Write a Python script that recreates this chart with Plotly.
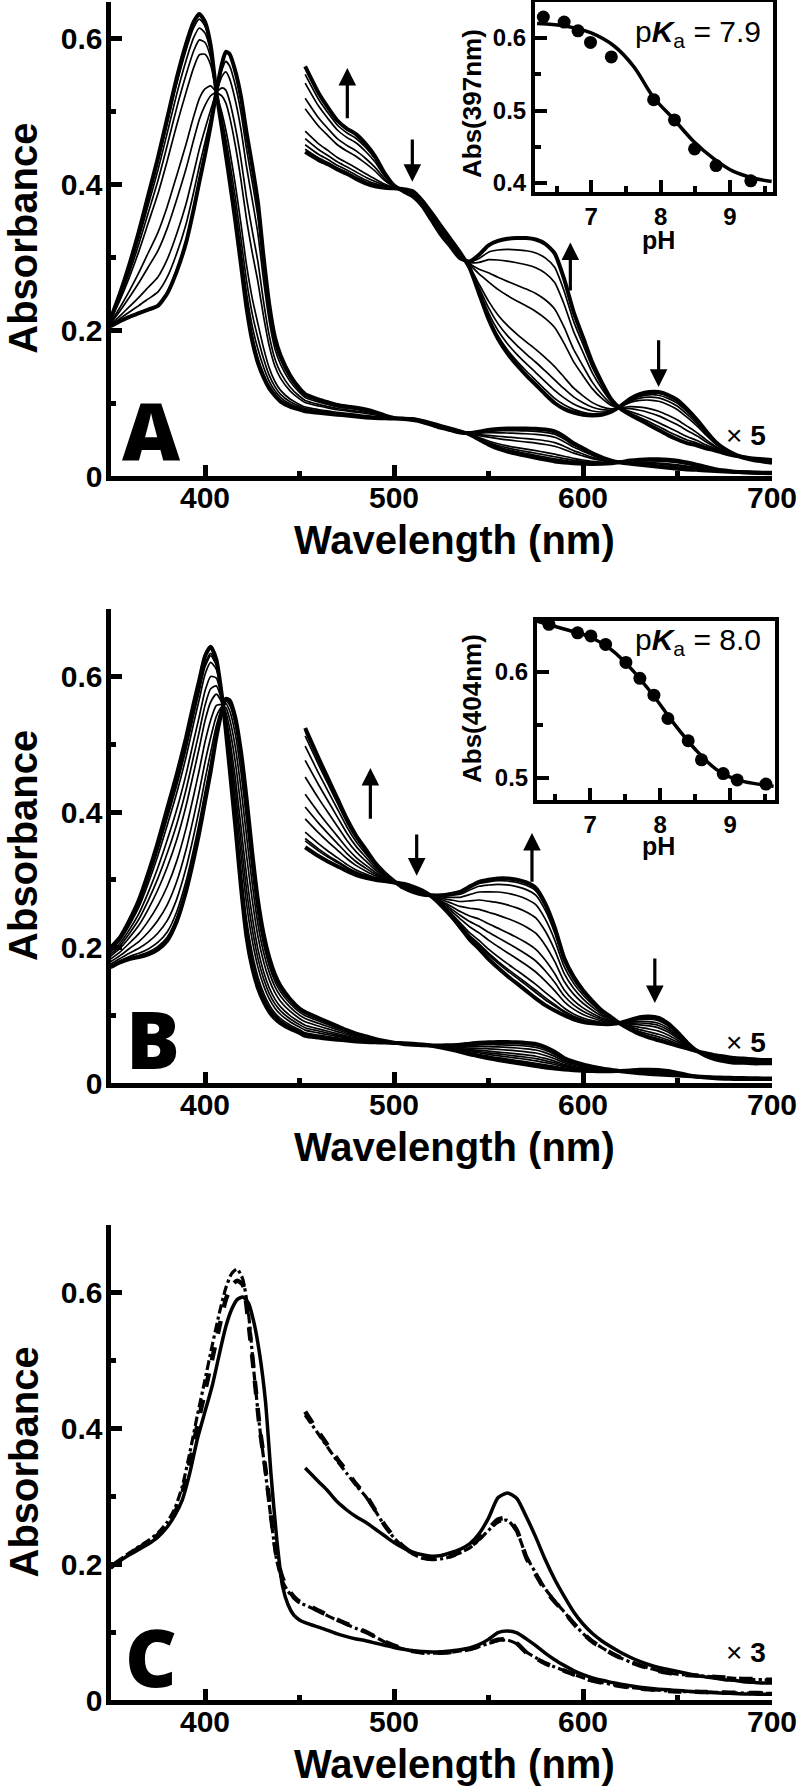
import numpy as np
import plotly.graph_objects as go

W, H = 800, 1790

# ---------------- Panel A data ----------------
A_WL_SORET = [350, 355, 360, 365, 370, 375, 380, 385, 390, 394, 397, 400, 403, 406, 409, 411, 413, 416, 419, 422, 425, 428, 431, 434, 437, 440, 445, 450]
A_ACID_SORET = [0.215, 0.250, 0.290, 0.335, 0.385, 0.435, 0.490, 0.545, 0.592, 0.622, 0.633, 0.622, 0.590, 0.526, 0.475, 0.440, 0.405, 0.350, 0.290, 0.230, 0.185, 0.155, 0.135, 0.120, 0.110, 0.102, 0.095, 0.091]
A_BASE_SORET = [0.205, 0.212, 0.218, 0.223, 0.228, 0.233, 0.250, 0.280, 0.320, 0.365, 0.403, 0.440, 0.480, 0.526, 0.565, 0.581, 0.578, 0.555, 0.520, 0.470, 0.425, 0.375, 0.300, 0.235, 0.190, 0.165, 0.138, 0.120]
A_WL_VIS = [453, 460, 465, 470, 475, 480, 485, 490, 495, 500, 505, 510, 515, 520, 525, 530, 535, 540, 545, 550,
            555, 560, 565, 570, 575, 580, 585, 590, 595, 600, 605, 610, 615, 620, 625, 630, 635, 640, 645, 650,
            655, 660, 665, 670, 675, 680, 685, 690, 695, 700]
A_ACID_X5 = [0.444, 0.433, 0.427, 0.420, 0.414, 0.407, 0.401, 0.397, 0.395, 0.394, 0.393, 0.390, 0.377, 0.360, 0.342, 0.324, 0.306, 0.285, 0.250, 0.215,
             0.188, 0.168, 0.152, 0.138, 0.125, 0.112, 0.100, 0.092, 0.087, 0.084, 0.083, 0.084, 0.088, 0.096, 0.106, 0.112, 0.115, 0.115, 0.111, 0.104,
             0.092, 0.078, 0.062, 0.047, 0.037, 0.030, 0.025, 0.022, 0.020, 0.018]
A_BASE_X5 = [0.561, 0.525, 0.505, 0.487, 0.476, 0.468, 0.455, 0.438, 0.415, 0.398, 0.390, 0.383, 0.370, 0.350, 0.330, 0.314, 0.298, 0.294, 0.303, 0.316,
             0.322, 0.325, 0.326, 0.326, 0.324, 0.318, 0.305, 0.270, 0.225, 0.190, 0.155, 0.128, 0.105, 0.092, 0.084, 0.077, 0.070, 0.063, 0.056, 0.050,
             0.045, 0.042, 0.038, 0.035, 0.031, 0.028, 0.026, 0.024, 0.023, 0.022]
A_INSET_PH = [6.31, 6.61, 6.81, 6.99, 7.29, 7.90, 8.20, 8.49, 8.80, 9.30]
A_INSET_ABS = [0.629, 0.622, 0.610, 0.594, 0.574, 0.515, 0.487, 0.447, 0.424, 0.403]
A_FIT_PH = [6.22, 6.66, 7.00, 7.33, 7.61, 7.90, 8.19, 8.47, 8.76, 9.05, 9.33, 9.60]
A_FIT_ABS = [0.620, 0.616, 0.607, 0.589, 0.561, 0.518, 0.488, 0.458, 0.434, 0.416, 0.407, 0.402]

# ---------------- Panel B data ----------------
B_WL_SORET = [350, 355, 360, 365, 370, 375, 380, 385, 390, 394, 397, 400, 403, 406, 409, 411, 413, 416, 419, 422, 425, 428, 431, 434, 437, 440, 445, 450]
B_ACID_SORET = [0.200, 0.215, 0.240, 0.270, 0.310, 0.355, 0.405, 0.455, 0.510, 0.560, 0.595, 0.630, 0.644, 0.625, 0.570, 0.520, 0.465, 0.380, 0.290, 0.215, 0.170, 0.140, 0.120, 0.105, 0.095, 0.088, 0.080, 0.074]
B_BASE_SORET = [0.171, 0.178, 0.183, 0.186, 0.190, 0.197, 0.210, 0.238, 0.283, 0.330, 0.370, 0.415, 0.460, 0.510, 0.550, 0.567, 0.565, 0.540, 0.490, 0.420, 0.340, 0.270, 0.220, 0.185, 0.160, 0.143, 0.124, 0.110]
B_WL_VIS = A_WL_VIS
B_ACID_X5 = [0.348, 0.335, 0.327, 0.320, 0.313, 0.307, 0.303, 0.300, 0.298, 0.296, 0.294, 0.290, 0.284, 0.275, 0.262, 0.247, 0.230, 0.212, 0.198, 0.183,
             0.170, 0.158, 0.147, 0.136, 0.125, 0.115, 0.107, 0.100, 0.094, 0.090, 0.088, 0.087, 0.087, 0.089, 0.093, 0.097, 0.098, 0.096, 0.088, 0.075,
             0.060, 0.048, 0.040, 0.035, 0.032, 0.030, 0.030, 0.029, 0.029, 0.029]
B_BASE_X5 = [0.524, 0.480, 0.450, 0.420, 0.390, 0.365, 0.345, 0.325, 0.310, 0.298, 0.288, 0.282, 0.278, 0.277, 0.277, 0.279, 0.282, 0.290, 0.297, 0.300,
             0.302, 0.302, 0.300, 0.296, 0.288, 0.265, 0.230, 0.185, 0.157, 0.137, 0.121, 0.107, 0.097, 0.087, 0.079, 0.072, 0.067, 0.063, 0.059, 0.055,
             0.051, 0.047, 0.044, 0.041, 0.039, 0.037, 0.036, 0.035, 0.034, 0.034]
B_INSET_PH = [6.41, 6.82, 7.01, 7.22, 7.51, 7.71, 7.91, 8.11, 8.40, 8.59, 8.90, 9.10, 9.51]
B_INSET_ABS = [0.645, 0.637, 0.634, 0.626, 0.609, 0.594, 0.578, 0.556, 0.535, 0.517, 0.504, 0.498, 0.494]
B_FIT_PH = [6.24, 6.60, 7.00, 7.30, 7.60, 7.90, 8.20, 8.50, 8.80, 9.10, 9.40, 9.62]
B_FIT_ABS = [0.648, 0.641, 0.633, 0.621, 0.602, 0.578, 0.551, 0.527, 0.508, 0.498, 0.494, 0.492]

# ---------------- Panel C data ----------------
C_WL_SORET = [350, 355, 360, 365, 370, 375, 380, 384, 388, 392, 396, 400, 404, 408, 411, 414, 417, 420, 423, 426, 429, 432, 435, 438, 441, 444, 447, 450]
C_SOLID_SORET = [0.195, 0.205, 0.214, 0.222, 0.230, 0.240, 0.255, 0.272, 0.295, 0.335, 0.385, 0.425, 0.465, 0.515, 0.550, 0.575, 0.590, 0.594, 0.585, 0.555, 0.508, 0.440, 0.330, 0.236, 0.168, 0.140, 0.125, 0.118]
C_DASH_SORET = [0.195, 0.206, 0.215, 0.224, 0.232, 0.243, 0.258, 0.275, 0.305, 0.350, 0.405, 0.455, 0.505, 0.555, 0.590, 0.610, 0.618, 0.612, 0.556, 0.480, 0.400, 0.340, 0.270, 0.210, 0.180, 0.163, 0.152, 0.145]
C_DOT_SORET = [0.197, 0.207, 0.217, 0.226, 0.235, 0.246, 0.262, 0.282, 0.315, 0.365, 0.420, 0.472, 0.525, 0.575, 0.607, 0.628, 0.635, 0.620, 0.570, 0.480, 0.400, 0.335, 0.265, 0.205, 0.175, 0.160, 0.150, 0.143]
C_WL_VIS = A_WL_VIS
C_SOLID_X3 = [0.342, 0.322, 0.308, 0.292, 0.280, 0.270, 0.262, 0.252, 0.242, 0.232, 0.224, 0.218, 0.214, 0.212, 0.213, 0.217, 0.222, 0.230, 0.245, 0.268,
              0.298, 0.305, 0.297, 0.270, 0.240, 0.207, 0.178, 0.153, 0.130, 0.112, 0.098, 0.087, 0.078, 0.070, 0.063, 0.057, 0.052, 0.048, 0.045, 0.042,
              0.039, 0.036, 0.034, 0.032, 0.030, 0.029, 0.027, 0.026, 0.025, 0.025]
C_DASH_X3 = [0.425, 0.395, 0.375, 0.355, 0.337, 0.318, 0.302, 0.280, 0.258, 0.240, 0.226, 0.216, 0.210, 0.208, 0.209, 0.212, 0.218, 0.225, 0.238, 0.252,
             0.266, 0.268, 0.250, 0.210, 0.185, 0.162, 0.145, 0.130, 0.113, 0.098, 0.086, 0.077, 0.069, 0.062, 0.056, 0.051, 0.047, 0.043, 0.040, 0.038,
             0.037, 0.036, 0.035, 0.034, 0.033, 0.032, 0.031, 0.031, 0.030, 0.030]
C_DOT_X3 = [0.420, 0.392, 0.372, 0.352, 0.334, 0.316, 0.300, 0.279, 0.257, 0.239, 0.225, 0.215, 0.209, 0.207, 0.208, 0.211, 0.217, 0.224, 0.236, 0.250,
            0.262, 0.265, 0.248, 0.212, 0.187, 0.164, 0.146, 0.130, 0.113, 0.098, 0.086, 0.077, 0.069, 0.062, 0.056, 0.051, 0.047, 0.043, 0.040, 0.038,
            0.037, 0.036, 0.035, 0.034, 0.033, 0.032, 0.031, 0.030, 0.030, 0.029]

# ---------------- helpers ----------------
FONT = "Liberation Sans, Arial, Helvetica, sans-serif"
def PX(px):
    return px / W
def PY(py):
    return 1 - py / H

fig = go.Figure()

def add_titration(xa, ya, wl_s, acid_s, base_s, wl_v, acid_v, base_v, inset_abs, mult):
    wl_s = np.array(wl_s, float); wl_v = np.array(wl_v, float)
    acid_s = np.array(acid_s); base_s = np.array(base_s)
    acid_v = np.array(acid_v); base_v = np.array(base_v)
    v = np.array(inset_abs)
    fr = (v - v[-1]) / (v[0] - v[-1])
    n = len(fr)
    order = list(range(1, n - 1)) + [0, n - 1]
    for i in order:
        f = fr[i]
        thick = i in (0, n - 1)
        w = 4.0 if thick else 1.7
        sor = f * acid_s + (1 - f) * base_s
        vis = f * acid_v + (1 - f) * base_v
        raw_x = np.concatenate([wl_s, wl_v])
        raw_y = np.concatenate([sor, vis / mult])
        fig.add_trace(go.Scatter(x=raw_x, y=raw_y, mode="lines", xaxis=xa, yaxis=ya,
                                 line=dict(color="black", width=w, shape="spline", smoothing=0.6),
                                 showlegend=False, hoverinfo="skip"))
        fig.add_trace(go.Scatter(x=wl_v, y=vis, mode="lines", xaxis=xa, yaxis=ya,
                                 line=dict(color="black", width=w, shape="spline", smoothing=0.6),
                                 showlegend=False, hoverinfo="skip"))

add_titration("x", "y", A_WL_SORET, A_ACID_SORET, A_BASE_SORET, A_WL_VIS, A_ACID_X5, A_BASE_X5, A_INSET_ABS, 5)
add_titration("x3", "y3", B_WL_SORET, B_ACID_SORET, B_BASE_SORET, B_WL_VIS, B_ACID_X5, B_BASE_X5, B_INSET_ABS, 5)

# insets
fig.add_trace(go.Scatter(x=A_FIT_PH, y=A_FIT_ABS, mode="lines", xaxis="x2", yaxis="y2",
                         line=dict(color="black", width=3.5, shape="spline"), showlegend=False))
fig.add_trace(go.Scatter(x=A_INSET_PH, y=A_INSET_ABS, mode="markers", xaxis="x2", yaxis="y2",
                         marker=dict(color="black", size=13), showlegend=False))
fig.add_trace(go.Scatter(x=B_FIT_PH, y=B_FIT_ABS, mode="lines", xaxis="x4", yaxis="y4",
                         line=dict(color="black", width=3.5, shape="spline"), showlegend=False))
fig.add_trace(go.Scatter(x=B_INSET_PH, y=B_INSET_ABS, mode="markers", xaxis="x4", yaxis="y4",
                         marker=dict(color="black", size=13), showlegend=False))

# panel C
for soret, vis, dash, w in [(C_DOT_SORET, C_DOT_X3, "dashdot", 3.2),
                            (C_DASH_SORET, C_DASH_X3, "dash", 4.5),
                            (C_SOLID_SORET, C_SOLID_X3, "solid", 3.5)]:
    vis = np.array(vis)
    rx = list(C_WL_SORET) + list(C_WL_VIS)
    ry = list(soret) + list(vis / 3)
    fig.add_trace(go.Scatter(x=rx, y=ry, mode="lines", xaxis="x5", yaxis="y5",
                             line=dict(color="black", width=w, dash=dash, shape="spline", smoothing=0.6),
                             showlegend=False))
    fig.add_trace(go.Scatter(x=C_WL_VIS, y=vis, mode="lines", xaxis="x5", yaxis="y5",
                             line=dict(color="black", width=w, dash=dash, shape="spline", smoothing=0.6),
                             showlegend=False))

# ---------------- axes ----------------
tickfont_main = dict(family=FONT, size=30, color="black", weight="bold")
tickfont_in = dict(family=FONT, size=24, color="black", weight="bold")

def main_x(anchor):
    return dict(domain=[PX(110.5), PX(772)], range=[350, 700], anchor=anchor, automargin=False,
                showline=True, linewidth=5, linecolor="black", mirror=False,
                ticks="inside", ticklen=11, tickwidth=5, tickcolor="black",
                tick0=0, dtick=100, ticklabelstandoff=-9,
                minor=dict(ticks="inside", ticklen=5, tickwidth=5, tickcolor="black", dtick=50, tick0=0),
                tickfont=tickfont_main, showgrid=False, zeroline=False)

def main_y(anchor, top, bot, ymax):
    return dict(domain=[PY(bot), PY(top)], range=[0, ymax], anchor=anchor, automargin=False,
                showline=True, linewidth=5, linecolor="black", mirror=False,
                ticks="inside", ticklen=11, tickwidth=5, tickcolor="black",
                tick0=0, dtick=0.2, ticklabelstandoff=-3,
                minor=dict(ticks="inside", ticklen=5, tickwidth=5, tickcolor="black", dtick=0.1, tick0=0),
                tickfont=tickfont_main, showgrid=False, zeroline=False)

def inset_x(anchor, l, r, rng):
    return dict(domain=[PX(l), PX(r)], range=rng, anchor=anchor, automargin=False,
                showline=True, linewidth=4, linecolor="black", mirror=True,
                ticks="inside", ticklen=12, tickwidth=4, tickcolor="black",
                tick0=0, dtick=1,
                minor=dict(ticks="inside", ticklen=6, tickwidth=4, tickcolor="black", dtick=0.5, tick0=0),
                tickfont=tickfont_in, showgrid=False, zeroline=False)

def inset_y(anchor, top, bot, rng):
    return dict(domain=[PY(bot), PY(top)], range=rng, anchor=anchor, automargin=False,
                showline=True, linewidth=4, linecolor="black", mirror=True,
                ticks="inside", ticklen=12, tickwidth=4, tickcolor="black",
                tick0=0, dtick=0.1,
                minor=dict(ticks="inside", ticklen=6, tickwidth=4, tickcolor="black", dtick=0.05, tick0=0),
                tickfont=tickfont_in, showgrid=False, zeroline=False)

A_TOP, A_BOT = 1.5, 476
B_TOP, B_BOT = 608.75, 1083
C_TOP, C_BOT = 1225, 1700

fig.update_layout(
    width=W, height=H, margin=dict(l=0, r=0, t=0, b=0, autoexpand=False),
    paper_bgcolor="white", plot_bgcolor="rgba(0,0,0,0)", showlegend=False,
    xaxis=main_x("y"), yaxis=main_y("x", A_TOP, A_BOT, 0.65),
    xaxis2=inset_x("y2", 535, 773, [6.19, 9.62]), yaxis2=inset_y("x2", 2, 192, [0.3876, 0.6497]),
    xaxis3=main_x("y3"), yaxis3=main_y("x3", B_TOP, B_BOT, 0.7),
    xaxis4=inset_x("y4", 537, 775, [6.24, 9.64]), yaxis4=inset_y("x4", 620.5, 800, [0.479, 0.6486]),
    xaxis5=main_x("y5"), yaxis5=main_y("x5", C_TOP, C_BOT, 0.7),
)

# ---------------- annotations ----------------
ann = []
def text(px, py, s, size, bold=True, xanchor="center", yanchor="middle", angle=0, family=FONT, weight=None):
    f = dict(family=family, size=size, color="black")
    if weight is not None:
        f["weight"] = weight
    elif bold:
        f["weight"] = "bold"
    ann.append(dict(x=PX(px), y=PY(py), xref="paper", yref="paper", text=s, showarrow=False,
                    xanchor=xanchor, yanchor=yanchor, textangle=angle, font=f))

for top, bot in [(A_TOP, A_BOT), (B_TOP, B_BOT), (C_TOP, C_BOT)]:
    text(23, (top + bot) / 2, "Absorbance", 40, angle=-90)
    text(454, bot + 64, "Wavelength (nm)", 40)

text(151, 429, "A", 80, family="Open Sans, sans-serif", weight=800)
text(153, 1037, "B", 80, family="Open Sans, sans-serif", weight=800)
text(151, 1655, "C", 80, family="Open Sans, sans-serif", weight=800)

text(768, 436, "× <b>5</b>", 28, bold=False, xanchor="right")
text(768, 1042, "× <b>5</b>", 28, bold=False, xanchor="right")
text(768, 1652, "× <b>3</b>", 28, bold=False, xanchor="right")

text(763, 33, "p<b><i>K</i></b><sub>a</sub> = 7.9", 30, bold=False, xanchor="right")
text(763, 641, "p<b><i>K</i></b><sub>a</sub> = 8.0", 30, bold=False, xanchor="right")
text(658, 240, "pH", 25)
text(658, 846, "pH", 25)
text(472, 104, "Abs(397nm)", 26, angle=-90)
text(472, 709, "Abs(404nm)", 26, angle=-90)

def arrow(xa, ya, wl, y0, y1):
    ann.append(dict(x=wl, y=y1, ax=wl, ay=y0, xref=xa, yref=ya, axref=xa, ayref=ya, text="",
                    showarrow=True, arrowhead=2, arrowsize=1.1, arrowwidth=3.2, arrowcolor="black"))

for wl, y0, y1 in [(475.3, 0.488, 0.559), (509.7, 0.463, 0.403), (593.3, 0.252, 0.320), (640.0, 0.188, 0.122)]:
    arrow("x", "y", wl, y0, y1)
for wl, y0, y1 in [(487.5, 0.388, 0.465), (512.0, 0.369, 0.306), (573.0, 0.295, 0.369), (638.0, 0.186, 0.118)]:
    arrow("x3", "y3", wl, y0, y1)

fig.update_layout(annotations=ann)
fig.write_html("out.html", config={"displayModeBar": False, "staticPlot": True},
               post_script="document.body.style.margin='0px';document.body.style.overflow='hidden';")
